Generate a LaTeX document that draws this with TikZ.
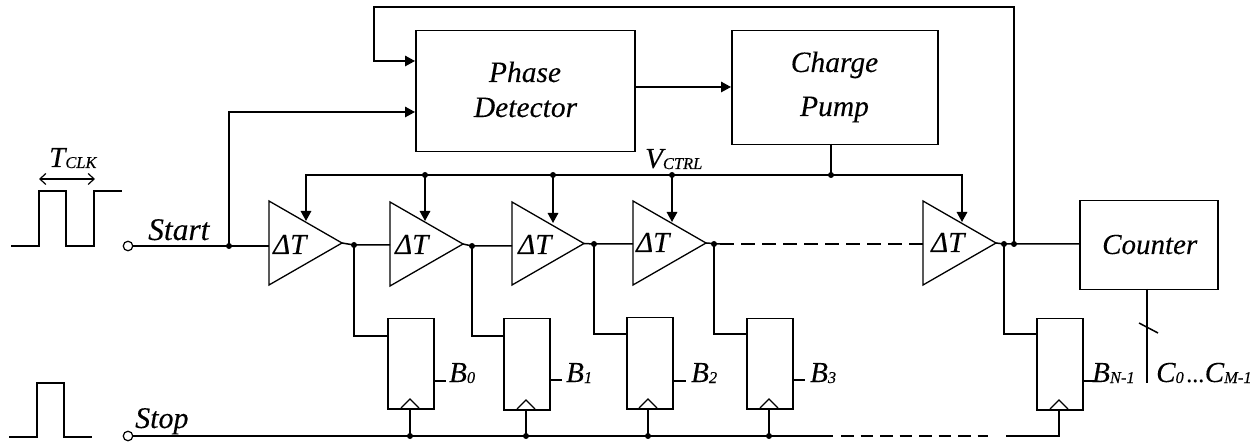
\documentclass[tikz,border=0pt]{standalone}
\usepackage{fontspec}
\setmainfont[ItalicFeatures={FakeBold=0.15}]{Liberation Serif}
\usetikzlibrary{arrows.meta}
\newcommand{\sbs}[1]{\raisebox{-1pt}{\fontsize{16.5}{17}\selectfont #1}}
\tikzset{
  x=1pt,y=-1pt,
  wire/.style={line width=1.5pt,line join=miter,line cap=butt},
  arr/.style={wire,-{Triangle[length=10pt,width=10.5pt]}},
  block/.style={draw,line width=1.5pt,inner sep=0pt},
  dot/.style={circle,fill=black,inner sep=0pt,minimum size=6pt},
  term/.style={circle,draw,fill=white,line width=1.2pt,inner sep=0pt,minimum size=9.5pt},
  lbl/.style={inner sep=0pt,font=\fontsize{29}{30}\selectfont\itshape,anchor=base west},
  clbl/.style={inner sep=0pt,font=\fontsize{29.5}{30}\selectfont\itshape,anchor=base},
  dashwire/.style={wire,dash pattern=on 14pt off 7pt},
  dashstop/.style={wire,dash pattern=on 12.5pt off 7pt}
}
\newcommand{\amp}[7]{% name, left x, top y, bottom y, tip x, label x, label baseline
  \coordinate (#1a) at (#2,#3);
  \coordinate (#1b) at (#2,#4);
  \coordinate (#1tip) at (#5,{(#3+#4)/2});
  \draw[wire,line width=1.3pt] (#1a) -- (#1b) -- (#1tip) -- cycle;
  \node[lbl] (#1l) at (#6,#7) {ΔT};
}
\newcommand{\ffb}[8]{% name, l, t, r, b, input y, clk x, stub y
  \node[block,minimum width={#4-#2},minimum height={#5-#3},anchor=north west] (#1) at (#2,#3) {};
  \coordinate (#1in) at (#2,#6);
  \coordinate (#1ckt) at (#7,{#5-9});
  \coordinate (#1ckb) at (#7,#5);
  \coordinate (#1stub) at (#4,#8);
  \draw[wire,line width=1.3pt] (#7-9,#5) -- (#1ckt) -- (#7+9,#5);
}
\begin{document}
\begin{tikzpicture}
\useasboundingbox (0,0) rectangle (1260,443);
% waveforms
\draw[wire] (11,246) -- (39,246) -- (39,191) -- (66,191) -- (66,246) -- (94,246) -- (94,191) -- (122,191);
\draw[wire] (9,437) -- (37,437) -- (37,383) -- (64,383) -- (64,437) -- (92,437);
\coordinate (tl) at (39,179); \coordinate (tr) at (95,179);
\draw[line width=1.2pt,{Straight Barb[length=6pt,width=11pt]}-{Straight Barb[length=6pt,width=11pt]}] (tl) -- (tr);
\node[lbl] (tclk) at (49,167) {T\sbs{CLK}};
% blocks
\node[block,minimum width=219pt,minimum height=121pt,anchor=north west] (pd) at (415,30) {};
\node[clbl] (pdt1) at (525,82) {Phase};
\node[clbl] (pdt2) at (525.5,117) {Detector};
\node[block,minimum width=206pt,minimum height=114pt,anchor=north west] (cp) at (731,30) {};
\node[clbl] (cpt1) at (834.5,72) {Charge};
\node[clbl] (cpt2) at (834.5,116) {Pump};
\node[block,minimum width=138pt,minimum height=89pt,anchor=north west] (cnt) at (1079,200) {};
\node[lbl] (cntt) at (1102,254) {Counter};
% amplifiers
\amp{t1}{269}{201}{285}{342}{273}{254}
\amp{t2}{390}{202}{286}{463}{395}{254}
\amp{t3}{512}{202}{285}{584}{518}{254}
\amp{t4}{633}{201}{285}{706}{636}{252}
\amp{t5}{923}{201}{285}{996}{931}{252}
% flip-flops
\ffb{f0}{387}{318}{433}{408}{336}{410}{381}
\ffb{f1}{503}{318}{549}{409}{336}{526}{380}
\ffb{f2}{626}{317}{672}{408}{334}{648}{381}
\ffb{f3}{746}{318}{792}{408}{334}{769}{380}
\ffb{f4}{1036}{318}{1082}{409}{334}{1059}{381}
% junctions
\coordinate (sv) at (229,246);
\coordinate (d0) at (354,245);
\coordinate (d1) at (472,246);
\coordinate (d2) at (594,244);
\coordinate (d3) at (714,244);
\coordinate (d3e) at (720,244);
\coordinate (d4) at (1004,244);
\coordinate (d5) at (1014,244);
% start path
\draw[wire] (133,246) -- (sv) -- (269,246);
\draw[arr] (sv) -- (229,112) -- (415,112);
\draw[arr] (d5) -- (1014,7) -- (374,7) -- (374,61) -- (415,61);
\draw[arr] (634,87) -- (731,87);
% chain
\draw[wire] (t1tip) -- (d0) -- (390,245);
\draw[wire] (t2tip) -- (d1) -- (512,246);
\draw[wire] (t3tip) -- (d2) -- (633,244);
\draw[wire] (t4tip) -- (d3e);
\draw[dashwire] (d3e) -- (923,244);
\draw[wire] (t5tip) -- (d4) -- (d5) -- (1079,244);
% ff inputs
\draw[wire] (d0) |- (f0in);
\draw[wire] (d1) |- (f1in);
\draw[wire] (d2) |- (f2in);
\draw[wire] (d3) |- (f3in);
\draw[wire] (d4) |- (f4in);
% vctrl
\coordinate (v1) at (425,175); \coordinate (v2) at (553,175);
\coordinate (v3) at (672,175); \coordinate (v4) at (831,175);
\draw[wire] (831,144) -- (v4);
\draw[arr] (v1) -- (425,221);
\draw[arr] (v2) -- (553,223);
\draw[arr] (v3) -- (672,222);
\draw[arr] (v4) -- (962,175) -- (962,222);
\draw[arr] (v4) -- (306,175) -- (306,221);
% stop line
\coordinate (s0) at (410,436); \coordinate (s1) at (526,436);
\coordinate (s2) at (648,436); \coordinate (s3) at (769,436);
\draw[wire] (133,436) -- (833,436);
\draw[dashstop] (841,436) -- (988,436);
\draw[wire] (1006,436) -- (1059,436) -- (f4ckb);
\foreach \a/\b in {s0/f0ckb,s1/f1ckb,s2/f2ckb,s3/f3ckb} \draw[wire] (\a) -- (\b);
% stubs
\draw[wire] (f0stub) -- (446,381);
\draw[wire] (f1stub) -- (562,380);
\draw[wire] (f2stub) -- (686,381);
\draw[wire] (f3stub) -- (805,380);
\draw[wire] (f4stub) -- (1096,381);
% counter bus
\draw[wire] (1147,289) -- (1147,383);
\draw[wire] (1139,323) -- (1158,333);
% dots
\foreach \p in {sv,d0,d1,d2,d3,d4,d5,v1,v2,v3,v4,s0,s1,s2,s3} \node[dot] at (\p) {};
\node[term] (ts) at (128,246) {};
\node[term] (tp) at (128,436) {};
% labels
\node[lbl,font=\fontsize{31.5}{32}\selectfont\itshape] (lstart) at (148,240) {Start};
\node[lbl,font=\fontsize{30}{32}\selectfont\itshape] (lstop) at (135,428) {Stop};
\node[lbl] (lv) at (645,168) {V\sbs{CTRL}};
\node[lbl] (lb0) at (449,382) {B\sbs{0}};
\node[lbl] (lb1) at (566,382) {B\sbs{1}};
\node[lbl] (lb2) at (691,382) {B\sbs{2}};
\node[lbl] (lb3) at (810,382) {B\sbs{3}};
\node[lbl] (lbn) at (1092,382) {B\sbs{N-1}};
\node[lbl] (lc) at (1156,382) {C\sbs{0}\kern3pt{\fontsize{24}{24}\selectfont ...}C\sbs{M-1}};
\end{tikzpicture}
\end{document}
